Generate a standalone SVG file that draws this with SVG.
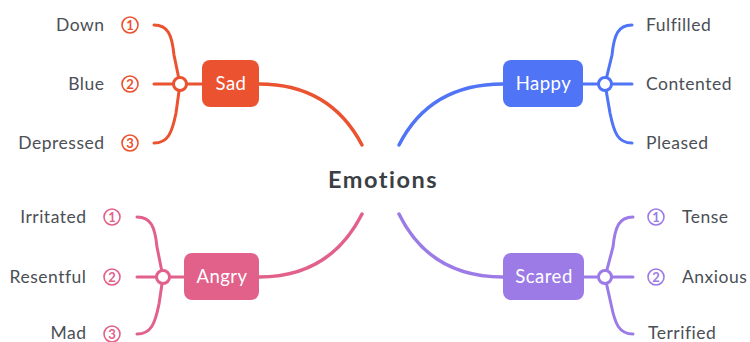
<svg xmlns="http://www.w3.org/2000/svg" width="750" height="342" viewBox="0 0 750 342">
<style>
.leaf{font-family:Lato,"Open Sans","Liberation Sans",sans-serif;font-size:17.5px;letter-spacing:0.5px;fill:#4b4f56}
.box{font-family:Lato,"Open Sans","Liberation Sans",sans-serif;font-size:18.5px;letter-spacing:0.5px;fill:#ffffff;text-anchor:middle}
.num{font-family:Lato,"Open Sans","Liberation Sans",sans-serif;font-size:13px;font-weight:bold;text-anchor:middle}
.main{fill:none;stroke-width:3.5;stroke-linecap:round}
.sub{fill:none;stroke-width:3;stroke-linecap:round}
.nc{fill:#ffffff;stroke-width:1.6}
.jc{fill:#ffffff;stroke-width:3}
.sad{stroke:#ea5230}.happy{stroke:#4f74f5}.angry{stroke:#e2618a}.scared{stroke:#9c7be7}
</style>
<rect width="750" height="342" fill="#ffffff"/>
<g id="connectors">
<path class="main sad" d="M259,84 Q330,84 362,145"/>
<path class="main happy" d="M503,84 Q430,84 399,145"/>
<path class="main angry" d="M259,277 Q330,277 362,214"/>
<path class="main scared" d="M503,277 Q430,277 399,214"/>
<g class="sad">
<path class="sub" d="M154,25 C168,25 172,35 174,55 L180,84 L176,113 C172,133 168,143 154,143"/>
<path class="sub" d="M154,84 L202,84"/>
</g>
<g class="happy">
<path class="sub" d="M632,25 C618,25 614,35 612,55 L605,84 L610,113 C614,133 618,143 632,143"/>
<path class="sub" d="M583,84 L632,84"/>
</g>
<g class="angry">
<path class="sub" d="M137,217 C151,217 155,227 157,247 L163,277 L159,304 C155,324 151,334 137,334"/>
<path class="sub" d="M137,277 L184,277"/>
</g>
<g class="scared">
<path class="sub" d="M633,217 C619,217 615,227 613,247 L605,277 L611,304 C615,324 619,334 633,334"/>
<path class="sub" d="M584,277 L633,277"/>
</g>
<circle class="jc sad" cx="180" cy="84" r="6.5"/>
<circle class="jc happy" cx="605" cy="84" r="6.5"/>
<circle class="jc angry" cx="163" cy="277" r="6.5"/>
<circle class="jc scared" cx="605" cy="277" r="6.5"/>
</g>
<g id="emotions">
<text x="383" y="188" text-anchor="middle" font-family="Lato,'Open Sans','Liberation Sans',sans-serif" font-size="23.5" font-weight="bold" letter-spacing="1.5" fill="#3b3f45">Emotions</text>
</g>
<g id="sad">
<rect x="202" y="60" width="57" height="47" rx="8" fill="#ea5230"/>
<text class="box" x="231" y="90">Sad</text>
</g>
<g id="happy">
<rect x="503" y="60" width="80" height="47" rx="8" fill="#4f74f5"/>
<text class="box" x="543.5" y="90">Happy</text>
</g>
<g id="angry">
<rect x="184" y="253" width="75" height="47" rx="8" fill="#e2618a"/>
<text class="box" x="222" y="283">Angry</text>
</g>
<g id="scared">
<rect x="503" y="253" width="81" height="47" rx="8" fill="#9c7be7"/>
<text class="box" x="544" y="283">Scared</text>
</g>
<g id="sad-down">
<circle class="nc sad" cx="130" cy="25" r="8"/><text class="num" x="130" y="29.5" fill="#ea5230">1</text>
<text class="leaf" x="104.5" y="31" text-anchor="end">Down</text>
</g>
<g id="sad-blue">
<circle class="nc sad" cx="130" cy="84" r="8"/><text class="num" x="130" y="88.5" fill="#ea5230">2</text>
<text class="leaf" x="104.5" y="90" text-anchor="end">Blue</text>
</g>
<g id="sad-depressed">
<circle class="nc sad" cx="130" cy="143" r="8"/><text class="num" x="130" y="147.5" fill="#ea5230">3</text>
<text class="leaf" x="104.5" y="149" text-anchor="end">Depressed</text>
</g>
<g id="happy-fulfilled"><text class="leaf" x="646" y="31">Fulfilled</text></g>
<g id="happy-contented"><text class="leaf" x="646" y="90">Contented</text></g>
<g id="happy-pleased"><text class="leaf" x="646" y="149">Pleased</text></g>
<g id="angry-irritated">
<circle class="nc angry" cx="112" cy="217" r="8"/><text class="num" x="112" y="221.5" fill="#e2618a">1</text>
<text class="leaf" x="86.5" y="223" text-anchor="end">Irritated</text>
</g>
<g id="angry-resentful">
<circle class="nc angry" cx="112" cy="277" r="8"/><text class="num" x="112" y="281.5" fill="#e2618a">2</text>
<text class="leaf" x="86.5" y="283" text-anchor="end">Resentful</text>
</g>
<g id="angry-mad">
<circle class="nc angry" cx="112" cy="334" r="8"/><text class="num" x="112" y="338.5" fill="#e2618a">3</text>
<text class="leaf" x="86.5" y="339" text-anchor="end">Mad</text>
</g>
<g id="scared-tense">
<circle class="nc scared" cx="656" cy="217" r="8"/><text class="num" x="656" y="221.5" fill="#9c7be7">1</text>
<text class="leaf" x="682" y="223">Tense</text>
</g>
<g id="scared-anxious">
<circle class="nc scared" cx="656" cy="277" r="8"/><text class="num" x="656" y="281.5" fill="#9c7be7">2</text>
<text class="leaf" x="682" y="283">Anxious</text>
</g>
<g id="scared-terrified"><text class="leaf" x="648" y="339">Terrified</text></g>
</svg>
